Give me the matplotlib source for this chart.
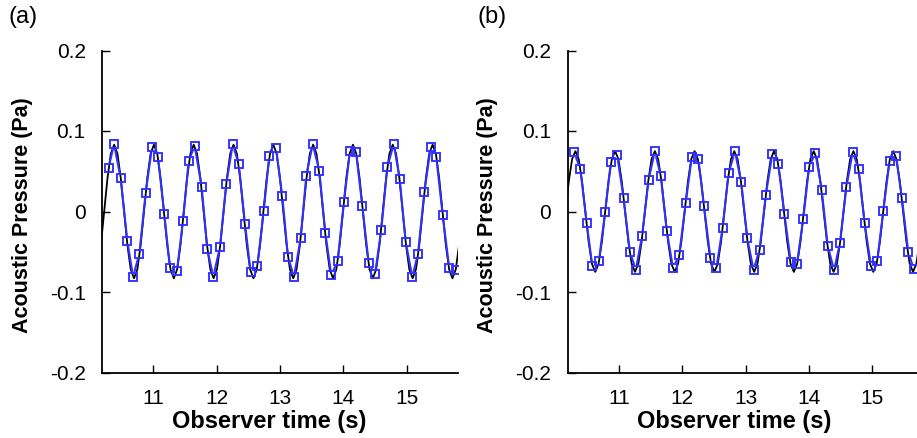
import numpy as np
import matplotlib
matplotlib.use("Agg")
import matplotlib.pyplot as plt
from matplotlib.collections import LineCollection

# ---------------- data ----------------
# (a) reference solution (black line): uniform time grid, pressure values
time_a_start, time_a_step = 10.1723, 0.05236
pressure_line_a = [
    -0.0415, 0.0, 0.0415, 0.0719, 0.083, 0.0719, 0.0415, 0.0, -0.0415, -0.0719, -0.083, -0.0719,
    -0.0415, 0.0, 0.0415, 0.0719, 0.083, 0.0719, 0.0415, 0.0, -0.0415, -0.0719, -0.083, -0.0719,
    -0.0415, 0.0, 0.0415, 0.0719, 0.083, 0.0719, 0.0415, 0.0, -0.0415, -0.0719, -0.083, -0.0719,
    -0.0415, 0.0, 0.0415, 0.0719, 0.083, 0.0719, 0.0415, 0.0, -0.0415, -0.0719, -0.083, -0.0719,
    -0.0415, 0.0, 0.0415, 0.0719, 0.083, 0.0719, 0.0415, 0.0, -0.0415, -0.0719, -0.083, -0.0719,
    -0.0415, 0.0, 0.0415, 0.0719, 0.083, 0.0719, 0.0415, 0.0, -0.0415, -0.0719, -0.083, -0.0719,
    -0.0415, 0.0, 0.0415, 0.0719, 0.083, 0.0719, 0.0415, 0.0, -0.0415, -0.0719, -0.083, -0.0719,
    -0.0415, 0.0, 0.0415, 0.0719, 0.083, 0.0719, 0.0415, 0.0, -0.0415, -0.0719, -0.083, -0.0719,
    -0.0415, 0.0, 0.0415, 0.0719, 0.083, 0.0719, 0.0415, 0.0, -0.0415, -0.0719, -0.083, -0.0719,
    -0.0415,
]

# (a) computed series (blue squares)
time_sym_a = [
    10.295, 10.380, 10.485, 10.590, 10.680, 10.779, 10.880, 10.979, 11.074, 11.174,
    11.264, 11.374, 11.469, 11.558, 11.653, 11.764, 11.852, 11.947, 12.053, 12.152,
    12.253, 12.348, 12.448, 12.537, 12.642, 12.743, 12.831, 12.937, 13.036, 13.126,
    13.221, 13.327, 13.415, 13.516, 13.620, 13.715, 13.810, 13.910, 14.010, 14.105,
    14.200, 14.299, 14.400, 14.500, 14.599, 14.694, 14.795, 14.889, 14.984, 15.088,
    15.178, 15.278, 15.379, 15.467, 15.568, 15.672, 15.776,
]
pressure_sym_a = [
    0.0545, 0.0839, 0.0412, -0.0366, -0.0810, -0.0528, 0.0234, 0.0797, 0.0673, -0.0035,
    -0.0706, -0.0739, -0.0114, 0.0627, 0.0818, 0.0304, -0.0470, -0.0810, -0.0437, 0.0342,
    0.0834, 0.0594, -0.0155, -0.0756, -0.0677, 0.0002, 0.0693, 0.0785, 0.0193, -0.0565,
    -0.0810, -0.0333, 0.0445, 0.0839, 0.0507, -0.0263, -0.0793, -0.0611, 0.0122, 0.0755,
    0.0739, 0.0072, -0.0640, -0.0780, -0.0226, 0.0549, 0.0839, 0.0408, -0.0375, -0.0814,
    -0.0524, 0.0238, 0.0801, 0.0673, -0.0040, -0.0706, -0.0730,
]

# (b) reference solution (black line)
time_b_start, time_b_step = 10.157, 0.05225
pressure_line_b = [
    0.0, 0.0375, 0.065, 0.075, 0.065, 0.0375, 0.0, -0.0375, -0.065, -0.075, -0.065, -0.0375,
    0.0, 0.0375, 0.065, 0.075, 0.065, 0.0375, 0.0, -0.0375, -0.065, -0.075, -0.065, -0.0375,
    0.0, 0.0375, 0.065, 0.075, 0.065, 0.0375, 0.0, -0.0375, -0.065, -0.075, -0.065, -0.0375,
    0.0, 0.0375, 0.065, 0.075, 0.065, 0.0375, 0.0, -0.0375, -0.065, -0.075, -0.065, -0.0375,
    0.0, 0.0375, 0.065, 0.075, 0.065, 0.0375, 0.0, -0.0375, -0.065, -0.075, -0.065, -0.0375,
    0.0, 0.0375, 0.065, 0.075, 0.065, 0.0375, 0.0, -0.0375, -0.065, -0.075, -0.065, -0.0375,
    0.0, 0.0375, 0.065, 0.075, 0.065, 0.0375, 0.0, -0.0375, -0.065, -0.075, -0.065, -0.0375,
    0.0, 0.0375, 0.065, 0.075, 0.065, 0.0375, 0.0, -0.0375, -0.065, -0.075, -0.065, -0.0375,
    0.0, 0.0375, 0.065, 0.075, 0.065, 0.0375, 0.0, -0.0375, -0.065, -0.075, -0.065, -0.0375,
    0.0, 0.0375,
]

# (b) computed series (blue squares)
time_sym_b = [
    10.291, 10.391, 10.491, 10.580, 10.685, 10.784, 10.874, 10.973, 11.074, 11.173,
    11.268, 11.367, 11.468, 11.567, 11.661, 11.756, 11.855, 11.952, 12.055, 12.150,
    12.255, 12.343, 12.444, 12.539, 12.638, 12.732, 12.832, 12.932, 13.027, 13.126,
    13.220, 13.320, 13.420, 13.515, 13.614, 13.713, 13.810, 13.909, 14.003, 14.102,
    14.202, 14.296, 14.397, 14.491, 14.591, 14.690, 14.784, 14.879, 14.979, 15.079,
    15.173, 15.272, 15.373, 15.468, 15.567, 15.657,
]
pressure_sym_b = [
    0.0736, 0.0532, -0.0139, -0.0676, -0.0610, -0.0001, 0.0619, 0.0697, 0.0168, -0.0497,
    -0.0725, -0.0299, 0.0391, 0.0747, 0.0445, -0.0242, -0.0705, -0.0540, 0.0105, 0.0673,
    0.0656, 0.0068, -0.0572, -0.0701, -0.0200, 0.0478, 0.0747, 0.0362, -0.0333, -0.0726,
    -0.0473, 0.0205, 0.0710, 0.0594, -0.0035, -0.0626, -0.0655, -0.0097, 0.0557, 0.0726,
    0.0267, -0.0423, -0.0730, -0.0386, 0.0304, 0.0739, 0.0528, -0.0146, -0.0676, -0.0610,
    0.0002, 0.0623, 0.0694, 0.0168, -0.0502, -0.0720,
]

x_ticks = [11, 12, 13, 14, 15]
x_tick_labels = ["11", "12", "13", "14", "15"]
y_ticks = [-0.2, -0.1, 0.0, 0.1, 0.2]
y_tick_labels = ["-0.2", "-0.1", "0", "0.1", "0.2"]
panel_labels = ["(a)", "(b)"]
x_label = "Observer time (s)"
y_label = "Acoustic Pressure (Pa)"

# ---------------- styling ----------------
plt.rcParams['font.family'] = ['Liberation Sans', 'DejaVu Sans']
BLUE = '#3030ff'
DPI = 100
MS = 5.6      # marker size (pt)
MEW = 1.35

fig = plt.figure(figsize=(9.17, 4.38), dpi=DPI)
W, H = 917.0, 438.0

def add_axes(left_px):
    return fig.add_axes([left_px / W, 1 - 372.5 / H, 355.7 / W, 322.0 / H])

def gapped_line(ax, t, p, half_px):
    pts = ax.transData.transform(np.column_stack([t, p]))
    inv = ax.transData.inverted()
    segs = []
    for a, b in zip(pts[:-1], pts[1:]):
        d = b - a
        L = np.hypot(d[0], d[1])
        u = d / L
        g = half_px / max(abs(u[0]), abs(u[1]))
        if L > 2 * g:
            segs.append(inv.transform(np.array([a + u * g, b - u * g])))
    lc = LineCollection(segs, colors=BLUE, linewidths=1.5, zorder=4,
                        capstyle='butt')
    ax.add_collection(lc)

panels = [
    (102.3, (10.195, 15.81), time_a_start, time_a_step, pressure_line_a, time_sym_a, pressure_sym_a),
    (567.7, (10.192, 15.807), time_b_start, time_b_step, pressure_line_b, time_sym_b, pressure_sym_b),
]

for i, (left_px, xlim, t0, dt, pline, tsym, psym) in enumerate(panels):
    ax = add_axes(left_px)
    ax.set_xlim(*xlim)
    ax.set_ylim(-0.2, 0.2)
    tline = t0 + dt * np.arange(len(pline))
    ax.plot(tline, pline, color='black', lw=1.3, zorder=2, solid_joinstyle='round')
    ax.plot(tsym, psym, linestyle='none', marker='s', ms=MS, mew=MEW,
            mec=BLUE, mfc='none', zorder=5)
    gapped_line(ax, tsym, psym, (MS / 2 + MEW / 2) * DPI / 72.0)

    for s in ['top', 'right']:
        ax.spines[s].set_visible(False)
    for s in ['left', 'bottom']:
        ax.spines[s].set_linewidth(1.3)
    ax.set_xticks(x_ticks)
    ax.set_xticklabels(x_tick_labels)
    ax.set_yticks(y_ticks)
    ax.set_yticklabels(y_tick_labels)
    ax.tick_params(axis='both', direction='in', length=5.5, width=1.0, labelsize=15)
    ax.tick_params(axis='x', pad=12)
    ax.tick_params(axis='y', pad=12)
    ax.set_xlabel(x_label, fontsize=17, fontweight='bold')
    ax.set_ylabel(y_label, fontsize=15.5, fontweight='bold')
    ax.xaxis.set_label_coords(0.468, -0.117)
    ax.yaxis.set_label_coords(-0.196, 0.49)
    fig.text((8 if i == 0 else 478) / W, 1 - 6 / H, panel_labels[i],
             fontsize=17, va='top', ha='left')

fig.savefig('out.png', dpi=DPI)
